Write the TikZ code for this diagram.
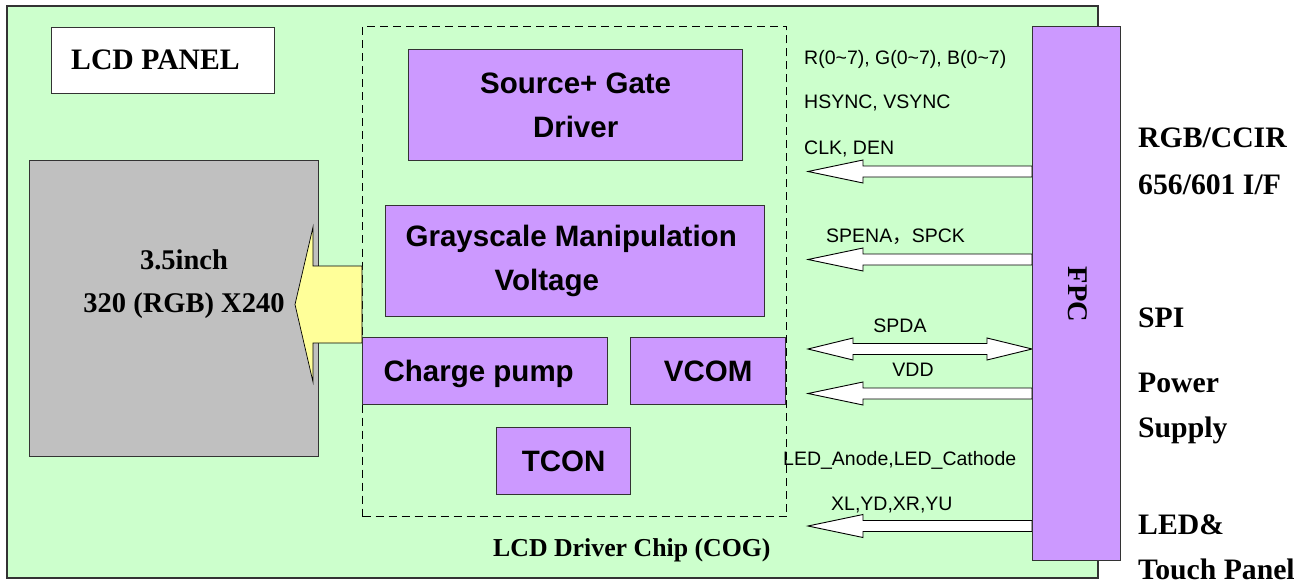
\documentclass[tikz,border=0pt]{standalone}
\usepackage{fontspec}
\setmainfont{Liberation Serif}
\setsansfont{Liberation Sans}
\newfontfamily\cjkfont{Noto Sans CJK SC}
\usetikzlibrary{calc}

\definecolor{bggreen}{HTML}{CCFFCC}
\definecolor{chippurple}{HTML}{CC99FF}
\definecolor{panelgray}{HTML}{C0C0C0}
\definecolor{arrowyellow}{HTML}{FFFF99}
\definecolor{edgecol}{HTML}{333333}

\tikzset{
  blk/.style={draw=edgecol, line width=1.3pt, inner sep=0pt, anchor=north west},
  pbox/.style={blk, fill=chippurple, font=\sffamily\bfseries\fontsize{29.5}{44}\selectfont, align=center},
  onebox/.style={pbox, text height=20pt, text depth=0pt},
  serifbig/.style={font=\rmfamily\bfseries\fontsize{29.7}{34}\selectfont, inner sep=0pt},
  serifmid/.style={font=\rmfamily\bfseries\fontsize{28.5}{34}\selectfont, inner sep=0pt},
  siglabel/.style={font=\sffamily\fontsize{19.5}{22}\selectfont, inner sep=0pt, anchor=base west},
  harrow/.style={draw=black, line width=0.9pt, fill=white, line join=miter},
  yarrow/.style={draw=black, line width=0.7pt, fill=arrowyellow, line join=miter},
}

\newcommand\hollowleft[1]{%
  \draw[harrow] (#1) -- ++(55,-11.5) -- ++(0,6)
    -- ($(fpc.west|-#1)+(0,-5.5)$) -- ($(fpc.west|-#1)+(0,5.5)$)
    -- ($(#1)+(55,5.5)$) -- ($(#1)+(55,11.5)$) -- cycle;}

\begin{document}
\begin{tikzpicture}[x=1pt,y=-1pt]
\useasboundingbox (0,0) rectangle (1309,583);

% board
\node[blk, fill=bggreen, line width=1.8pt, minimum width=1091pt, minimum height=572pt] (board) at (6,5) {};

% LCD panel label box
\node[blk, fill=white, minimum width=223pt, minimum height=66pt] (panelbox) at (51,27) {};
\node[serifbig, anchor=base west] (paneltxt) at (71,70) {LCD PANEL};

% LCD glass
\node[blk, fill=panelgray, minimum width=289pt, minimum height=296pt] (lcd) at (29,160) {};
\node[serifmid, anchor=base] (lcdtxta) at (184,269) {3.5inch};
\node[serifmid, anchor=base] (lcdtxtb) at (184,312) {320 (RGB) X240};

% driver chip outline
\node[draw=black, dashed, dash pattern=on 8pt off 5pt, line width=1pt, inner sep=0pt,
      anchor=north west, minimum width=424pt, minimum height=490pt] (cog) at (362,26) {};
\node[font=\rmfamily\bfseries\fontsize{25.8}{30}\selectfont, inner sep=0pt, anchor=base west] (cogtxt) at (493,556) {LCD Driver Chip (COG)};

% yellow arrow from chip to LCD
\coordinate (ytip) at (295,304.5);
\draw[yarrow] (ytip) -- ($(ytip)+(18,-77.5)$) -- ($(ytip)+(18,-38.5)$)
  -- ($(cog.west|-ytip)+(0,-38.5)$) -- ($(cog.west|-ytip)+(0,38.5)$)
  -- ($(ytip)+(18,38.5)$) -- ($(ytip)+(18,77.5)$) -- cycle;

% chip blocks
\node[pbox, minimum width=334pt, minimum height=111pt] (src) at (408,49) {Source+ Gate\\Driver};
\node[pbox, minimum width=379pt, minimum height=111pt] (gray) at (385,205)
  {\makebox[339pt][l]{Grayscale Manipulation}\\\makebox[339pt][l]{\hspace*{89pt}Voltage}};
\node[onebox, minimum width=245pt, minimum height=67pt] (cp) at (362,337) {\makebox[203pt][l]{Charge pump}};
\node[onebox, minimum width=155pt, minimum height=67pt] (vcom) at (630,337) {VCOM};
\node[onebox, minimum width=134pt, minimum height=67pt] (tcon) at (496,427) {TCON};

% FPC connector (outline reference, body drawn after arrows)
\path (1032,26) coordinate (fpcnw);
\node[blk, minimum width=88pt, minimum height=534pt] (fpc) at (fpcnw) {};

% signal arrows
\coordinate (ta) at (808,171.5);
\coordinate (tb) at (808,259.5);
\coordinate (tv) at (808,393.5);
\coordinate (tx) at (808,526);
\coordinate (ts) at (808,349);
\hollowleft{ta}
\hollowleft{tb}
\hollowleft{tv}
\hollowleft{tx}
\draw[harrow] (ts) -- ++(45,-11) -- ++(0,5.5)
  -- ($(fpc.west|-ts)+(-45,-5.5)$) -- ++(0,-5.5) -- (fpc.west|-ts)
  -- ($(fpc.west|-ts)+(-45,11)$) -- ++(0,-5.5)
  -- ($(ts)+(45,5.5)$) -- ++(0,5.5) -- cycle;

% FPC body on top
\node[blk, fill=chippurple, minimum width=88pt, minimum height=534pt] (fpcbody) at (fpcnw) {};
\node[serifmid, rotate=-90] (fpctxt) at ($(fpcbody.center)+(1,1)$) {FPC};

% signal labels
\node[siglabel] (lrgb) at (804,65) {R(0\textasciitilde7), G(0\textasciitilde7), B(0\textasciitilde7)};
\node[siglabel] (lsync) at (804,109) {HSYNC, VSYNC};
\node[siglabel] (lclk) at (804,154) {CLK, DEN};
\node[siglabel] (lspena) at (826,242) {SPENA{\cjkfont ，}SPCK};
\node[siglabel, anchor=base] (lspda) at (900,332) {SPDA};
\node[siglabel, anchor=base] (lvdd) at (913,376.5) {VDD};
\node[siglabel] (lled) at (783,465) {LED\_Anode,LED\_Cathode};
\node[siglabel] (lxy) at (831,510) {XL,YD,XR,YU};

% interface labels
\node[serifbig, anchor=base west] (ira) at (1138,148) {RGB/CCIR};
\node[serifbig, anchor=base west] (irb) at (1138,194) {656/601 I/F};
\node[serifbig, anchor=base west] (ispi) at (1138,327) {SPI};
\node[serifbig, anchor=base west] (ipwa) at (1138,392.5) {Power};
\node[serifbig, anchor=base west] (ipwb) at (1138,437.5) {Supply};
\node[serifbig, anchor=base west] (ileda) at (1138,534) {LED\&};
\node[serifbig, anchor=base west] (iledb) at (1138,579) {Touch Panel};
\end{tikzpicture}
\end{document}
